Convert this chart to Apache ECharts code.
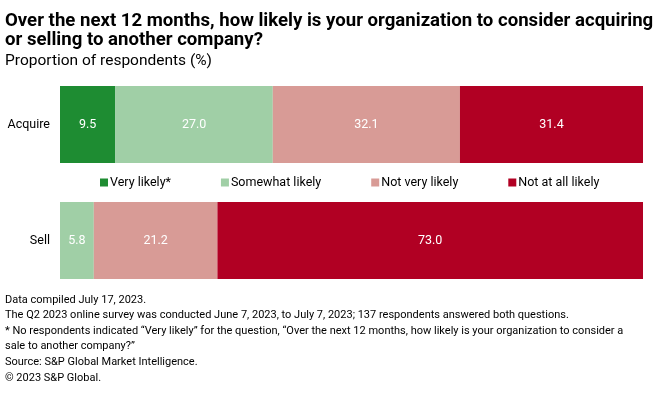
<!DOCTYPE html>
<html><head><meta charset="utf-8">
<script src="https://cdn.jsdelivr.net/npm/echarts@6/dist/echarts.min.js"></script>
<style>html,body{margin:0;padding:0;background:#fff}#c{width:660px;height:394px}</style>
</head><body><div id="c"></div>
<script>
const categories = ['Acquire', 'Sell'];
const seriesNames = ['Very likely*', 'Somewhat likely', 'Not very likely', 'Not at all likely'];
const veryLikely = [9.5, null];
const somewhatLikely = [27.0, 5.8];
const notVeryLikely = [32.1, 21.2];
const notAtAllLikely = [31.4, 73.0];
const colors = ['#1e8c32', '#a0cfa6', '#d89b96', '#b10023'];
const titleText = 'Over the next 12 months, how likely is your organization to consider acquiring\nor selling to another company?';
const subtitleText = 'Proportion of respondents (%)';
const footnotes = [
  'Data compiled July 17, 2023.',
  'The Q2 2023 online survey was conducted June 7, 2023, to July 7, 2023; 137 respondents answered both questions.',
  '* No respondents indicated \u201cVery likely\u201d for the question, \u201cOver the next 12 months, how likely is your organization to consider a',
  'sale to another company?\u201d',
  'Source: S&P Global Market Intelligence.',
  '\u00a9 2023 S&P Global.'
];
const FONT = 'Roboto';
const chart = echarts.init(document.getElementById('c'), null, {renderer: 'canvas'});
const allData = [veryLikely, somewhatLikely, notVeryLikely, notAtAllLikely];
chart.setOption({
  animation: false,
  textStyle: {fontFamily: FONT},
  legend: {
    top: 171, left: 95, itemWidth: 8, itemHeight: 8, itemGap: 50, icon: 'rect',
    textStyle: {fontSize: 12.5, color: '#000', fontFamily: FONT, padding: [0,0,0,-3]},
    data: seriesNames
  },
  grid: {left: 60, right: 17, top: 66.5, height: 232, containLabel: false},
  xAxis: {type: 'value', min: 0, max: 100, show: false},
  yAxis: {type: 'category', data: categories, inverse: true,
    axisLine: {show: false}, axisTick: {show: false},
    axisLabel: {fontSize: 12.5, color: '#000', margin: 10, fontFamily: FONT}},
  series: seriesNames.map((n, i) => ({
    name: n, type: 'bar', stack: 'all', barWidth: 77,
    data: allData[i],
    itemStyle: {color: colors[i]},
    label: {show: true, position: 'inside', color: '#fff', fontSize: 12.5, fontFamily: FONT,
      formatter: p => p.value == null ? '' : p.value.toFixed(1)}
  })),
  graphic: [
    {type: 'text', x: 5, y: 12, scaleX: 1.0,
      style: {text: titleText, font: 'bold 18.6px ' + FONT, lineHeight: 19, fill: '#000'}},
    {type: 'text', x: 5, y: 53,
      style: {text: subtitleText, font: '15.5px ' + FONT, fill: '#000'}},
    {type: 'text', x: 5, y: 292,
      style: {text: footnotes.join('\n'), font: '11px ' + FONT, lineHeight: 15.6, fill: '#000'}}
  ]
});
</script></body></html>
